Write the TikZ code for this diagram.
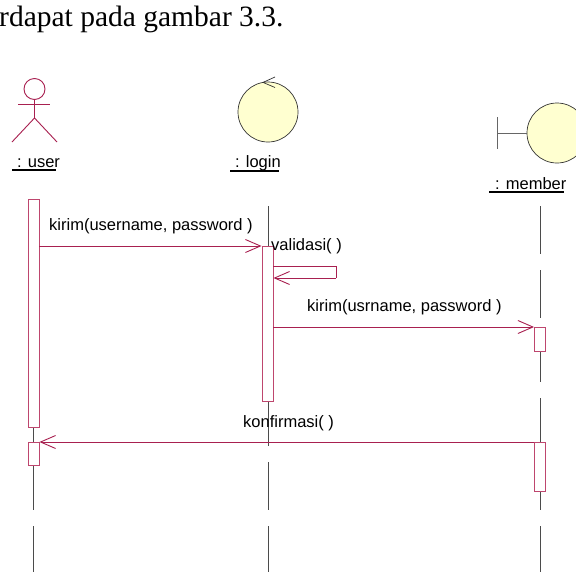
\documentclass[tikz,border=0pt]{standalone}
\usepackage{fontspec}
\setmainfont{Liberation Serif}
\newfontfamily\umlfont{Liberation Sans}
\usetikzlibrary{arrows.meta}
\definecolor{msg}{RGB}{168,32,80}
\definecolor{bar}{RGB}{190,70,110}
\definecolor{lifegray}{RGB}{75,75,75}
\definecolor{ctrlfill}{RGB}{255,255,208}
\begin{document}
\begin{tikzpicture}[x=1pt,y=-1pt,
  lbl/.style={font=\umlfont\fontsize{16.5}{18}\selectfont, inner sep=0pt, anchor=base west},
  actbar/.style={draw=bar, fill=white, line width=0.9pt, minimum width=11pt, inner sep=0pt, anchor=north},
  lifeline/.style={draw=lifegray, line width=0.9pt, dash pattern=on 48pt off 16pt},
  msgline/.style={draw=msg, line width=0.9pt, -{Straight Barb[length=15pt,width=13pt,line width=0.9pt]}},
  selfline/.style={draw=msg, line width=0.9pt},
  uline/.style={line width=2.3pt, black},
  actorline/.style={draw=msg, line width=0.9pt},
  objcircle/.style={circle, draw=black!80, fill=ctrlfill, line width=0.7pt, minimum size=60pt, inner sep=0pt}
]
\clip (0,0) rectangle (576,571);
\fill[white] (0,0) rectangle (576,571);

% title text
\node[anchor=base west, inner sep=0pt, font=\fontsize{29.5}{32}\selectfont] (title) at (-1,26) {rdapat pada gambar 3.3.};

% actor :user
\node[circle, draw=msg, line width=0.9pt, minimum size=21pt, inner sep=0pt] (head) at (34.5,89) {};
\coordinate (hip) at (34.5,118);
\coordinate (armL) at (18,104);
\coordinate (armR) at (50,104);
\coordinate (footL) at (12,142);
\coordinate (footR) at (57,142);
\draw[actorline] (head.south) -- (hip);
\draw[actorline] (armL) -- (armR);
\draw[actorline] (footL) -- (hip) -- (footR);
\node[lbl] (userlbl) at (17,167) {: user};
\draw[uline] (12,170) -- (56,170);

% control :login
\node[objcircle] (login) at (268,112) {};
\coordinate (ctip) at (263,82.4);
\coordinate (ctipA) at (275,77);
\coordinate (ctipB) at (275,87.5);
\draw[black!80, line width=0.7pt] (ctipA) -- (ctip) -- (ctipB);
\node[lbl] (loginlbl) at (235,167) {: login};
\draw[uline] (230,171) -- (279,171);

% boundary :member
\node[objcircle] (member) at (557,133) {};
\coordinate (bt) at (497,117);
\coordinate (bb) at (497,149);
\coordinate (bm) at (497,133);
\draw[black!60, line width=0.9pt] (bt) -- (bb);
\draw[black!60, line width=0.9pt] (bm) -- (member.west);
\node[lbl] (memberlbl) at (495,189) {: member};
\draw[uline] (489,192) -- (564,192);

% lifelines
\coordinate (uTop) at (33.5,206);
\coordinate (uBot) at (33.5,575);
\coordinate (lTop) at (268,206);
\coordinate (lBot) at (268,575);
\coordinate (mTop) at (540,206);
\coordinate (mBot) at (540,575);
\draw[lifeline] (uTop) -- (uBot);
\draw[lifeline] (lTop) -- (lBot);
\draw[lifeline] (mTop) -- (mBot);

% activation bars
\node[actbar, minimum height=228pt] (user1) at (33.5,199) {};
\node[actbar, minimum height=23pt] (user2) at (33.5,442) {};
\node[actbar, minimum height=155pt] (login1) at (267.5,246) {};
\node[actbar, minimum height=24pt] (member1) at (540,327) {};
\node[actbar, minimum height=49pt] (member2) at (540,442) {};

% message 1
\draw[msgline] (user1.east |- login1.north) -- (login1.north west);
\node[lbl] (m1lbl) at (49,230) {kirim(username, password )};

% message 2 (self)
\coordinate (s1) at (login1.east |- 0,266);
\coordinate (s2) at (336,266);
\coordinate (s3) at (336,278);
\coordinate (s4) at (login1.east |- 0,278);
\draw[selfline] (s1) -- (s2) -- (s3);
\draw[msgline] (s3) -- (s4);
\node[lbl] (m2lbl) at (271,250) {validasi( )};

% message 3
\draw[msgline] (login1.east |- member1.north) -- (member1.north west);
\node[lbl] (m3lbl) at (307,311) {kirim(usrname, password )};

% message 4
\draw[msgline] (member2.north west) -- (user2.north east);
\node[lbl] (m4lbl) at (243,427) {konfirmasi( )};
\end{tikzpicture}
\end{document}
